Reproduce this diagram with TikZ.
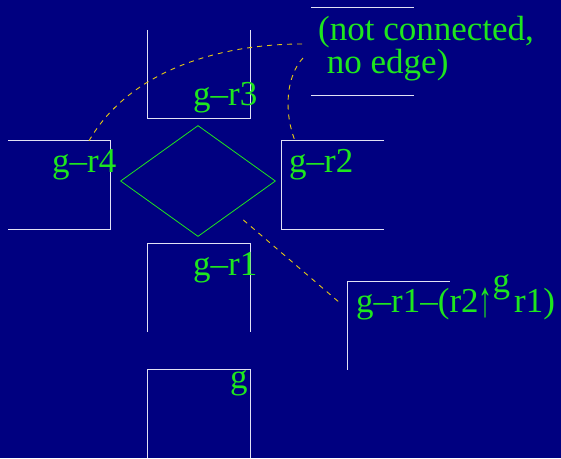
\documentclass[tikz,border=0pt]{standalone}
\usepackage{fontspec}
\setmainfont{Liberation Serif}
\usepackage{tikz}
\usetikzlibrary{shapes.geometric, calc}
\definecolor{DeepNavy}{RGB}{0,0,128}
\definecolor{LabelGreen}{RGB}{30,230,30}
\definecolor{EdgeYellow}{RGB}{230,200,20}
\definecolor{FrameWhite}{RGB}{225,225,245}

\begin{document}
\begin{tikzpicture}[x=1pt, y=-1pt,
    cell/.style={minimum width=102pt, minimum height=88pt, inner sep=0pt},
    frame/.style={draw=FrameWhite, line width=1pt},
    lbl/.style={text=LabelGreen, inner sep=0pt, anchor=base west, font=\fontsize{35}{28}\selectfont},
    edge/.style={draw=EdgeYellow, line width=0.9pt, dash pattern=on 5pt off 5pt}]
  % page
  \fill[DeepNavy] (0,0) rectangle (561,458);
  \useasboundingbox (0,0) rectangle (561,458);
  % cells, each with some sides drawn
  \foreach \nm/\x/\y in {r3/199/74, r4/59/185, r2/333/185, r1/199/288,
                         g/199/414, nc/362.5/51.5, sub/398.5/325.5}
    \node[cell] (\nm) at (\x,\y) {};
  \draw[frame] (r3.north west) |- (r3.south east) -- (r3.north east);
  \draw[frame] (r4.north west) -| (r4.south east) -- (r4.south west);
  \draw[frame] (r2.north east) -| (r2.south west) -- (r2.south east);
  \draw[frame] (r1.south west) |- (r1.north east) -- (r1.south east);
  \draw[frame] (g.south west) |- (g.north east) -- (g.south east);
  \draw[frame] (nc.north west) -- (nc.north east) (nc.south west) -- (nc.south east);
  \draw[frame] (sub.south west) |- (sub.north east);
  % hub
  \node[diamond, draw=LabelGreen, line width=0.8pt, minimum width=155pt,
        minimum height=111pt, inner sep=0pt] (hub) at (198,181) {};
  % labels
  \node[lbl] (r3l) at (193,105) {g–r3};
  \node[lbl] (r4l) at (52,172) {g–r4};
  \node[lbl] (r2l) at (289,172) {g–r2};
  \node[lbl] (r1l) at (193,275) {g–r1};
  \node[lbl] (gl) at (230,388) {g};
  \node[lbl, align=left] (ncl) at (318,73) {(not connected,\\\hspace{0.25em}no edge)};
  \node[lbl] (subl) at (356,312)
    {g–r1–(r2\raisebox{-4pt}{\scalebox{0.8}[1.45]{↑}}\raisebox{20pt}{g}\hspace{4pt}r1)};
  % edges
  \coordinate (ncA) at (302,44);
  \coordinate (ncB) at (303,58);
  \coordinate (subend) at (340,303);
  \draw[edge] (ncA) .. controls (220,44) and (130,70) .. ([xshift=30pt]r4.north);
  \draw[edge] (ncB) .. controls (287,75) and (283,110) .. ([xshift=-38pt]r2.north);
  \draw[edge, shorten <=13pt] (hub) -- (subend);
\end{tikzpicture}
\end{document}
